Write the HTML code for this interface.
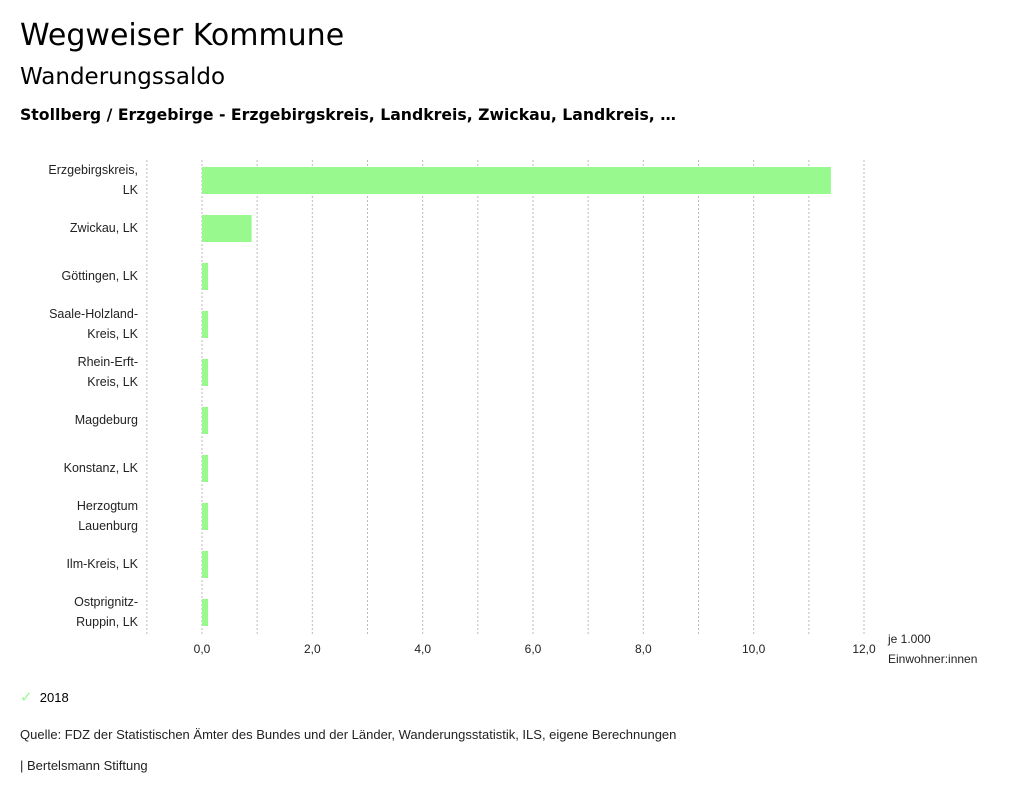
<!DOCTYPE html>
<html><head><meta charset="utf-8"><style>
body{margin:0;width:1024px;height:799px;background:#fff;font-family:"Liberation Sans",sans-serif;color:#000;overflow:hidden}
.t{position:absolute;left:20px;white-space:nowrap}
</style></head><body>
<div class="t" style="top:18px;font-size:30px;font-family:'DejaVu Sans',sans-serif">Wegweiser Kommune</div>
<div class="t" style="top:64px;font-size:23px;font-family:'DejaVu Sans',sans-serif">Wanderungssaldo</div>
<div class="t" style="top:105px;font-size:15.7px;font-weight:bold;font-family:'DejaVu Sans',sans-serif">Stollberg / Erzgebirge - Erzgebirgskreis, Landkreis, Zwickau, Landkreis, …</div>
<svg id="chart" width="1024" height="799" style="position:absolute;left:0;top:0" font-family="Liberation Sans, sans-serif"></svg>
<div class="t" style="top:688px;font-size:13px"><span style="color:#98f98f;font-size:15px">✓</span>&nbsp;&nbsp;2018</div>
<div class="t" style="top:727px;font-size:13px;color:#222">Quelle: FDZ der Statistischen Ämter des Bundes und der Länder, Wanderungsstatistik, ILS, eigene Berechnungen</div>
<div class="t" style="top:758px;font-size:13px;color:#222">| Bertelsmann Stiftung</div>
<script>
const categories=[["Erzgebirgskreis,","LK"],["Zwickau, LK"],["Göttingen, LK"],["Saale-Holzland-","Kreis, LK"],["Rhein-Erft-","Kreis, LK"],["Magdeburg"],["Konstanz, LK"],["Herzogtum","Lauenburg"],["Ilm-Kreis, LK"],["Ostprignitz-","Ruppin, LK"]];
const values=[11.4,0.9,0.11,0.11,0.11,0.11,0.11,0.11,0.11,0.11];
const tickValues=[0,2,4,6,8,10,12];
const tickLabels=["0,0","2,0","4,0","6,0","8,0","10,0","12,0"];
(function(){
const svg=document.getElementById('chart');const NS='http://www.w3.org/2000/svg';
const x0=202,xs=(864-202)/12,plotTop=156,band=48;
const X=v=>x0+v*xs, Y=i=>plotTop+i*band;
function mk(t,a){const e=document.createElementNS(NS,t);for(const k in a)e.setAttribute(k,a[k]);svg.appendChild(e);return e;}
for(let v=-1;v<=12;v++){const g=mk('line',{x1:X(v),x2:X(v),y1:160,y2:636,stroke:'#bbb','stroke-dasharray':'2,2','stroke-width':1});

}
tickValues.forEach((v,i)=>{const t=mk('text',{x:X(v),y:653,'font-size':12,'text-anchor':'middle',fill:'#222'});t.textContent=tickLabels[i];

});
const u1=mk('text',{x:888,y:643,'font-size':12,fill:'#222'});u1.textContent='je 1.000';


const u2=mk('text',{x:888,y:663,'font-size':12,fill:'#222'});u2.textContent='Einwohner:innen';


categories.forEach((c,i)=>{const cy=Y(i)+24;
const r=mk('rect',{x:X(0),y:cy-13,width:Math.max(0,X(values[i])-X(0)),height:27,fill:'#98f98f'});


c.forEach((line,j)=>{const t=mk('text',{x:138,y:cy+4+(c.length==2?(j?10:-10):0),'font-size':12.5,'text-anchor':'end',fill:'#222'});t.textContent=line;

});});
})();
</script>
</body></html>
